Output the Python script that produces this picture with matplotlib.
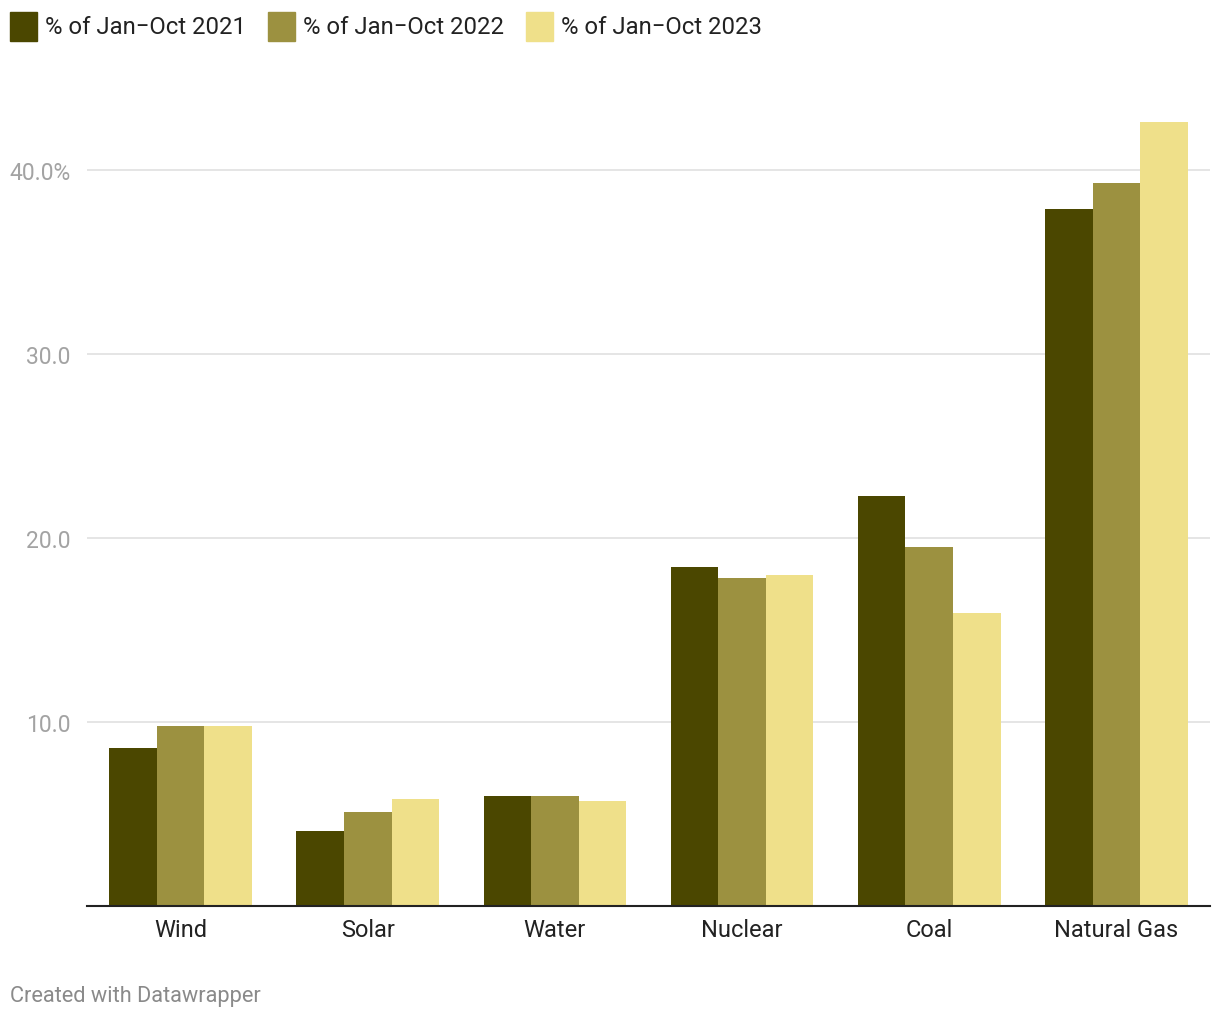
import matplotlib
matplotlib.use("Agg")
import matplotlib.pyplot as plt
from matplotlib.patches import Rectangle
import numpy as np

plt.rcParams['font.family'] = ['Roboto', 'DejaVu Sans']

categories = ["Wind", "Solar", "Water", "Nuclear", "Coal", "Natural Gas"]
series_names = ["% of Jan\u2212Oct 2021", "% of Jan\u2212Oct 2022", "% of Jan\u2212Oct 2023"]
v2021 = [8.6, 4.1, 6.0, 18.4, 22.3, 37.9]
v2022 = [9.8, 5.1, 6.0, 17.8, 19.5, 39.3]
v2023 = [9.8, 5.8, 5.7, 18.0, 15.9, 42.6]
yticks = [10, 20, 30, 40]
ytick_labels = ["10.0", "20.0", "30.0", "40.0%"]
colors = ["#4b4700", "#9c9140", "#efe08a"]

fig = plt.figure(figsize=(12.2, 10.2), dpi=100)
ax = fig.add_axes([87/1220, 113/1020, (1210-87)/1220, (905-77)/1020])

x = np.arange(len(categories))
bw = 0.254
for i, vals in enumerate([v2021, v2022, v2023]):
    ax.bar(x + (i - 1) * bw, vals, width=bw, color=colors[i], zorder=3, linewidth=0)

ax.set_xlim(-0.5, len(categories) - 0.5)
ax.set_ylim(0, 45)
ax.set_yticks(yticks)
ax.set_yticklabels(ytick_labels)
ax.grid(axis='y', color='#e3e3e3', linewidth=1.3, zorder=0)
for s in ['top', 'right', 'left']:
    ax.spines[s].set_visible(False)
ax.spines['bottom'].set_color('#222222')
ax.spines['bottom'].set_linewidth(1.5)
ax.spines['bottom'].set_zorder(4)
ax.set_xticks(x)
ax.set_xticklabels(categories, fontsize=17, color='#222222')
ax.tick_params(axis='x', length=0, pad=9)
ax.tick_params(axis='y', length=0, pad=12, labelsize=16.5, labelcolor='#a3a3a3')

# legend
lx = [10, 268, 526]
for i, name in enumerate(series_names):
    fig.patches.append(Rectangle((lx[i]/1220, 1 - 42/1020), 27/1220, 29/1020,
                                 transform=fig.transFigure, color=colors[i]))
    fig.text((lx[i] + 35)/1220, 1 - 27/1020, name, fontsize=17.2, color='#222222',
             va='center', ha='left')

fig.text(10/1220, 1 - 997/1020, "Created with Datawrapper", fontsize=15.7,
         color='#8a8a8a', va='center', ha='left')

fig.savefig("out.png", dpi=100, facecolor='white')
